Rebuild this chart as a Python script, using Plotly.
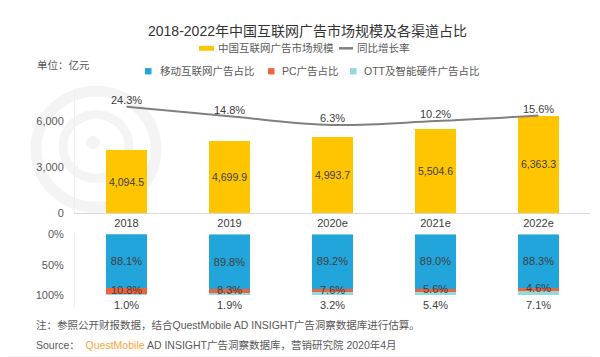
import plotly.graph_objects as go

# ---------------- data ----------------
years = ["2018", "2019", "2020e", "2021e", "2022e"]
market_size = [4094.5, 4699.9, 4993.7, 5504.6, 6363.3]   # 亿元
growth_rate = [24.3, 14.8, 6.3, 10.2, 15.6]              # %
mobile_share = [88.1, 89.8, 89.2, 89.0, 88.3]            # %
pc_share = [10.8, 8.3, 7.6, 5.6, 4.6]                    # %
ott_share = [1.0, 1.9, 3.2, 5.4, 7.1]                    # %
size_ticks = [0, 3000, 6000]
share_ticks = [0, 50, 100]
share_ticktext = ["0%", "50%", "100%"]

# ---------------- styling ----------------
W, H = 600, 357
def X(px):
    return px / W
def Y(px):
    return 1 - px / H

YELLOW = "#FFC600"
BLUE = "#22A5DA"
RED = "#F0643C"
TEAL = "#93DADA"
GRAYLINE = "#808080"
TXT = "#404040"
SUB = "#595959"
FONT = "Liberation Sans, Noto Sans CJK SC, sans-serif"

xdom = [X(67), X(582)]
top_dom = [Y(206), Y(79.3)]
bot_dom = [Y(303.6), Y(228)]

fig = go.Figure()

# market size bars
fig.add_trace(go.Bar(
    x=years, y=market_size, xaxis="x", yaxis="y",
    marker=dict(color=YELLOW, line=dict(width=0)), width=0.4,
    texttemplate="%{y:,.1f}", textposition="inside", insidetextanchor="middle",
    textangle=0, textfont=dict(size=11, color=TXT), showlegend=False,
))
# growth line
fig.add_trace(go.Scatter(
    x=years, y=growth_rate, xaxis="x", yaxis="y3",
    mode="lines+text", line=dict(color=GRAYLINE, width=2, shape="spline", smoothing=1.0),
    texttemplate="%{y:.1f}%", textposition="top center",
    textfont=dict(size=11, color=TXT), showlegend=False, cliponaxis=False,
))
# share stacks
fig.add_trace(go.Bar(
    x=years, y=mobile_share, xaxis="x2", yaxis="y2",
    marker=dict(color=BLUE, line=dict(width=0)), width=0.4,
    texttemplate="%{y:.1f}%", textposition="inside", insidetextanchor="middle",
    textangle=0, textfont=dict(size=11, color=TXT), showlegend=False,
))
fig.add_trace(go.Bar(
    x=years, y=pc_share, xaxis="x2", yaxis="y2",
    marker=dict(color=RED, line=dict(width=0)), width=0.4, showlegend=False,
))
fig.add_trace(go.Bar(
    x=years, y=ott_share, xaxis="x2", yaxis="y2",
    marker=dict(color=TEAL, line=dict(width=0)), width=0.4, showlegend=False,
))
# pc labels (centered on the thin red segment)
fig.add_trace(go.Scatter(
    x=years, y=[m + p / 2 for m, p in zip(mobile_share, pc_share)],
    xaxis="x2", yaxis="y2", mode="text",
    text=[f"{p:.1f}%" for p in pc_share], textposition="middle center",
    textfont=dict(size=11, color=TXT), showlegend=False, cliponaxis=False,
))

shapes = []
annotations = []

# ott labels below the bars (x given as category index)
for i, (m, p, o) in enumerate(zip(mobile_share, pc_share, ott_share)):
    annotations.append(dict(
        text=f"{o:.1f}%", xref="x2", yref="y2", x=i, y=m + p + o,
        xanchor="center", yanchor="top", yshift=-2, showarrow=False,
        font=dict(size=11, color=TXT),
    ))

# watermark (very faint) logo rings
wm = "#F4F4F4"
shapes += [
    dict(type="circle", xref="paper", yref="paper", layer="below",
         x0=X(88 - 60), x1=X(88 + 60), y0=Y(140 + 60), y1=Y(140 - 60),
         line=dict(color=wm, width=11)),
    dict(type="circle", xref="paper", yref="paper", layer="below",
         x0=X(88 - 33), x1=X(88 + 33), y0=Y(137 + 33), y1=Y(137 - 33),
         line=dict(color=wm, width=9)),
    dict(type="circle", xref="paper", yref="paper", layer="below",
         x0=X(85 - 7), x1=X(85 + 7), y0=Y(133 + 7), y1=Y(133 - 7),
         fillcolor=wm, line=dict(width=0)),
]

# title
annotations.append(dict(
    text="2018-2022年中国互联网广告市场规模及各渠道占比", xref="paper", yref="paper",
    x=X(299), y=Y(18), xanchor="center", yanchor="middle", showarrow=False,
    font=dict(size=14, color="#333333"),
))
# unit
annotations.append(dict(
    text="单位：亿元", xref="paper", yref="paper", x=X(27), y=Y(53),
    xanchor="left", yanchor="middle", showarrow=False,
    font=dict(size=10.5, color=SUB),
))

# manual legend, row 1
leg_font = dict(size=10.5, color=SUB)
shapes.append(dict(type="rect", xref="paper", yref="paper",
                   x0=X(191), x1=X(206), y0=Y(38), y1=Y(33),
                   fillcolor=YELLOW, line=dict(width=0)))
annotations.append(dict(text="中国互联网广告市场规模", xref="paper", yref="paper",
                        x=X(208), y=Y(35.5), xanchor="left", yanchor="middle",
                        showarrow=False, font=leg_font))
shapes.append(dict(type="line", xref="paper", yref="paper",
                   x0=X(331), x1=X(345), y0=Y(35.5), y1=Y(35.5),
                   line=dict(color=GRAYLINE, width=2.5)))
annotations.append(dict(text="同比增长率", xref="paper", yref="paper",
                        x=X(347), y=Y(35.5), xanchor="left", yanchor="middle",
                        showarrow=False, font=leg_font))
# row 2
for sq_x, txt_x, col, label in [
    (137, 150, BLUE, "移动互联网广告占比"),
    (260, 272, RED, "PC广告占比"),
    (342, 354, TEAL, "OTT及智能硬件广告占比"),
]:
    shapes.append(dict(type="rect", xref="paper", yref="paper",
                       x0=X(sq_x), x1=X(sq_x + 6.5), y0=Y(62.5), y1=Y(56),
                       fillcolor=col, line=dict(width=0)))
    annotations.append(dict(text=label, xref="paper", yref="paper",
                            x=X(txt_x), y=Y(59), xanchor="left", yanchor="middle",
                            showarrow=False, font=leg_font))

# footer
annotations.append(dict(
    text="注：参照公开财报数据，结合QuestMobile AD INSIGHT广告洞察数据库进行估算。",
    xref="paper", yref="paper", x=X(26), y=Y(322), xanchor="left", yanchor="middle",
    showarrow=False, font=dict(size=10.5, color=SUB),
))
annotations.append(dict(
    text="Source：  <span style='color:#F5A53C'>QuestMobile</span> AD INSIGHT广告洞察数据库，营销研究院 2020年4月",
    xref="paper", yref="paper", x=X(26), y=Y(342), xanchor="left", yanchor="middle",
    showarrow=False, font=dict(size=10.5, color=SUB),
))
shapes.append(dict(type="rect", xref="paper", yref="paper",
                   x0=0, x1=1, y0=0, y1=Y(354.5), fillcolor="#E6E6E6", line=dict(width=0)))
shapes.append(dict(type="rect", xref="paper", yref="paper",
                   x0=X(588), x1=1, y0=0, y1=Y(354.5), fillcolor="#F08A24", line=dict(width=0)))

axis_font = dict(size=11, color=SUB)
fig.update_layout(
    width=W, height=H, margin=dict(l=0, r=0, t=0, b=0),
    paper_bgcolor="white", plot_bgcolor="rgba(0,0,0,0)",
    font=dict(family=FONT, color=TXT),
    barmode="stack", showlegend=False, hovermode=False,
    xaxis=dict(domain=xdom, anchor="y", type="category", categoryorder="array",
               categoryarray=years, showline=True, linecolor="#D9D9D9", linewidth=1,
               ticks="", tickfont=dict(size=11, color=TXT), showgrid=False, zeroline=False),
    yaxis=dict(domain=top_dom, anchor="x", range=[0, 8000], tickvals=size_ticks,
               tickformat=",", showgrid=False, zeroline=False, showline=True,
               linecolor="#EEEEEE", ticks="outside", ticklen=8,
               tickcolor="rgba(0,0,0,0)", tickfont=axis_font),
    yaxis3=dict(overlaying="y", anchor="x", range=[-80, 40], visible=False),
    xaxis2=dict(domain=xdom, anchor="y2", type="category", categoryorder="array",
                categoryarray=years, range=[-0.5, 4.5], showticklabels=False,
                showline=False, showgrid=False, zeroline=False, ticks=""),
    yaxis2=dict(domain=bot_dom, anchor="x2", range=[120, 0], tickvals=share_ticks,
                ticktext=share_ticktext, showgrid=False, zeroline=False, showline=True,
                linecolor="#EEEEEE", ticks="outside", ticklen=8,
                tickcolor="rgba(0,0,0,0)", tickfont=axis_font),
    shapes=shapes, annotations=annotations,
)

fig.write_html("out.html")
